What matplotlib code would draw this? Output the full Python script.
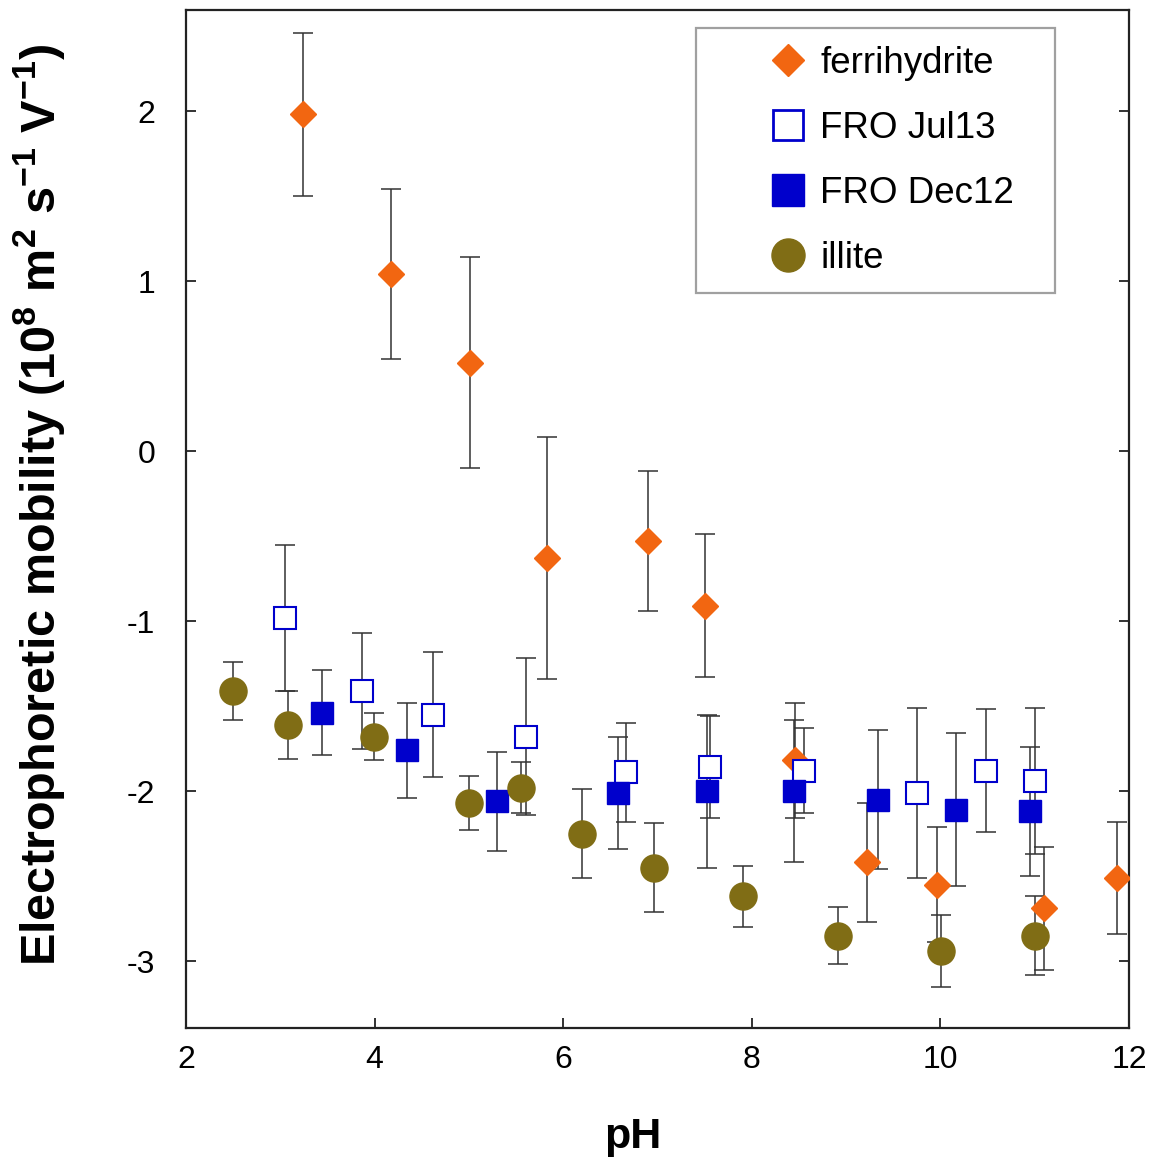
import matplotlib
matplotlib.use("Agg")
import matplotlib.pyplot as plt
from matplotlib.lines import Line2D
from matplotlib.legend_handler import HandlerLine2D

plt.rcParams["font.family"] = ["Liberation Sans", "DejaVu Sans"]
plt.rcParams["axes.unicode_minus"] = False
plt.rcParams["mathtext.fontset"] = "custom"
plt.rcParams["mathtext.rm"] = "Liberation Sans"
plt.rcParams["mathtext.bf"] = "Liberation Sans:bold"

# ferrihydrite
ferri_ph  = [3.24, 4.17, 5.01, 5.83, 6.90, 7.50, 8.46, 9.22, 9.96, 11.10, 11.87]
ferri_mu  = [1.98, 1.04, 0.52, -0.63, -0.53, -0.91, -1.82, -2.42, -2.55, -2.69, -2.51]
ferri_err = [0.48, 0.50, 0.62, 0.71, 0.41, 0.42, 0.34, 0.35, 0.34, 0.36, 0.33]

# FRO Jul13
jul_ph  = [3.05, 3.87, 4.62, 5.61, 6.67, 7.56, 8.55, 9.75, 10.48, 11.00]
jul_mu  = [-0.98, -1.41, -1.55, -1.68, -1.89, -1.86, -1.88, -2.01, -1.88, -1.94]
jul_err = [0.43, 0.34, 0.37, 0.46, 0.29, 0.30, 0.25, 0.50, 0.36, 0.43]

# FRO Dec12
dec_ph  = [3.44, 4.34, 5.30, 6.58, 7.52, 8.45, 9.34, 10.17, 10.95]
dec_mu  = [-1.54, -1.76, -2.06, -2.01, -2.00, -2.00, -2.05, -2.11, -2.12]
dec_err = [0.25, 0.28, 0.29, 0.33, 0.45, 0.42, 0.41, 0.45, 0.38]

# illite
ill_ph  = [2.50, 3.08, 3.99, 5.00, 5.55, 6.20, 6.96, 7.91, 8.91, 10.01, 11.00]
ill_mu  = [-1.41, -1.61, -1.68, -2.07, -1.98, -2.25, -2.45, -2.62, -2.85, -2.94, -2.85]
ill_err = [0.17, 0.20, 0.14, 0.16, 0.15, 0.26, 0.26, 0.18, 0.17, 0.21, 0.23]

labels = ["ferrihydrite", "FRO Jul13", "FRO Dec12", "illite"]

ORANGE = "#f26611"
BLUE = "#0000cc"
OLIVE = "#806d15"

fig = plt.figure(figsize=(11.53, 11.65), dpi=100)
ax = fig.add_axes([0.1613, 0.1176, 0.9792 - 0.1613, 0.9914 - 0.1176])

series = [
    (ferri_ph, ferri_mu, ferri_err, dict(marker="D", ms=13.5, mfc=ORANGE, mec=ORANGE)),
    (jul_ph, jul_mu, jul_err, dict(marker="s", ms=16.5, mfc="white", mec=BLUE, mew=1.5)),
    (dec_ph, dec_mu, dec_err, dict(marker="s", ms=16.5, mfc=BLUE, mec=BLUE)),
    (ill_ph, ill_mu, ill_err, dict(marker="o", ms=19.5, mfc=OLIVE, mec=OLIVE)),
]

# error bars first, markers on top of all bars
for x, y, e, st in series:
    ax.errorbar(x, y, yerr=e, fmt="none", ecolor="#333333", elinewidth=1.1,
                capsize=7.5, capthick=1.1, zorder=2)
for x, y, e, st in series:
    ax.plot(x, y, ls="none", zorder=3, **st)

ax.set_xlim(2, 12)
ax.set_ylim(-3.394, 2.594)
ax.set_xticks([2, 4, 6, 8, 10, 12])
ax.set_yticks([-3, -2, -1, 0, 1, 2])
ax.tick_params(direction="in", length=7.5, width=1.3, labelsize=23,
               top=False, right=True, color="#222222")
ax.tick_params(axis="x", pad=12)
ax.tick_params(axis="y", pad=22)
for s in ax.spines.values():
    s.set_linewidth(1.6)
    s.set_color("#222222")

ax.set_xlabel("pH", fontsize=31, fontweight="bold")
ax.xaxis.set_label_coords(0.474, -0.087)
ax.set_ylabel("Electrophoretic mobility (10$^{\\mathbf{8}}$ m$^{\\mathbf{2}}$ s$^{\\mathbf{-1}}$ V$^{\\mathbf{-1}}$)",
              fontsize=35, fontweight="bold")
ax.yaxis.set_label_coords(-0.125, 0.514)

handles = [
    Line2D([], [], ls="none", marker="D", ms=16.8, mfc=ORANGE, mec=ORANGE),
    Line2D([], [], ls="none", marker="s", ms=21.5, mfc="white", mec=BLUE, mew=2),
    Line2D([], [], ls="none", marker="s", ms=23, mfc=BLUE, mec=BLUE),
    Line2D([], [], ls="none", marker="o", ms=23.8, mfc=OLIVE, mec=OLIVE),
]
leg = ax.legend(handles, labels, loc="upper left",
                bbox_to_anchor=(0.5408, 0.5, 0.3807, 0.4823), mode="expand",
                fontsize=26.5, frameon=True, fancybox=False, borderpad=0.48,
                labelspacing=0.815, handlelength=2.45, handletextpad=0.44,
                borderaxespad=0,
                handler_map={Line2D: HandlerLine2D(xpad=1.59)})
leg.get_frame().set_edgecolor("#888888")
leg.get_frame().set_linewidth(1.6)

plt.savefig("out.png", dpi=100)
